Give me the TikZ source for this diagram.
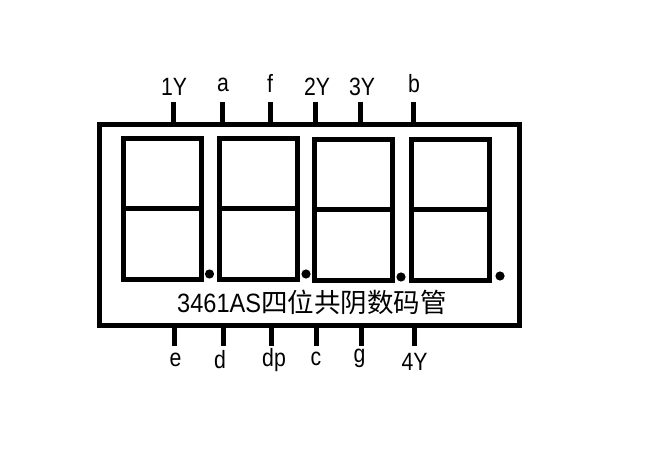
\documentclass[tikz,border=0pt]{standalone}
\usepackage{fontspec}
\setmainfont{Liberation Sans}
\newfontfamily\cjk{Noto Sans CJK SC}
\tikzset{
  px/.style={x=1pt,y=-1pt},
  thick line/.style={draw=black,line width=5pt,line cap=butt},
  segbox/.style={draw=black,line width=5pt,fill=none},
  pin/.style={draw=black,line width=5pt},
  pinlabel/.style={inner sep=0pt,font=\fontsize{25}{25}\selectfont,text=black,anchor=base},
  dot/.style={circle,fill=black,inner sep=0pt,minimum size=9.2pt}
}
\begin{document}
\begin{tikzpicture}[px]
\useasboundingbox (0,0) rectangle (648,449);
\draw[segbox] (99.5,124.5) rectangle (519.5,325);
\foreach \l/\r/\t/\m/\b in {123.5/201.5/138.5/208.5/279.5,219.5/297.5/138.5/208.5/279.5,314.5/392/139.5/209.5/280.5,411/489/139.5/209.5/280.5}{
  \draw[segbox] (\l,\t) rectangle (\r,\b);
  \draw[thick line] (\l,\m) -- (\r,\m);
}
\node[dot] (p1) at (209.5,274) {};
\node[dot] (p2) at (306,274) {};
\node[dot] (p3) at (401,277) {};
\node[dot] (p4) at (500,276) {};
% top pins
\foreach \n/\x/\txt/\y/\lx in {t1/173.5/1Y/96/174,t2/222.5/a/92/223,t3/270.5/f/93/270,t4/315/2Y/96/317,t5/360.5/3Y/96/362,t6/413/b/93/414}{
  \coordinate (\n a) at (\x,102);
  \coordinate (\n b) at (\x,124);
  \draw[pin] (\n a) -- (\n b);
  \node[pinlabel] (\n) at (\lx,\y) {\scalebox{.85}[1]{\txt}};
}
% bottom pins
\foreach \n/\x/\txt/\y/\lx in {b1/174.5/e/366.5/175.5,b2/223.5/d/368/220,b3/271.5/dp/366.5/274,b4/316.5/c/365/316,b5/361/g/362/359.5,b6/414.5/4Y/370.5/414.5}{
  \coordinate (\n a) at (\x,325);
  \coordinate (\n b) at (\x,346);
  \draw[pin] (\n a) -- (\n b);
  \node[pinlabel] (\n) at (\lx,\y) {\scalebox{.85}[1]{\txt}};
}
\node[inner sep=0pt,anchor=base west,text=black,font=\fontsize{26.5}{26.5}\selectfont] (title) at (177,312) {\scalebox{.89}[1]{3461AS}{\cjk 四位共阴数码管}};
\end{tikzpicture}
\end{document}
